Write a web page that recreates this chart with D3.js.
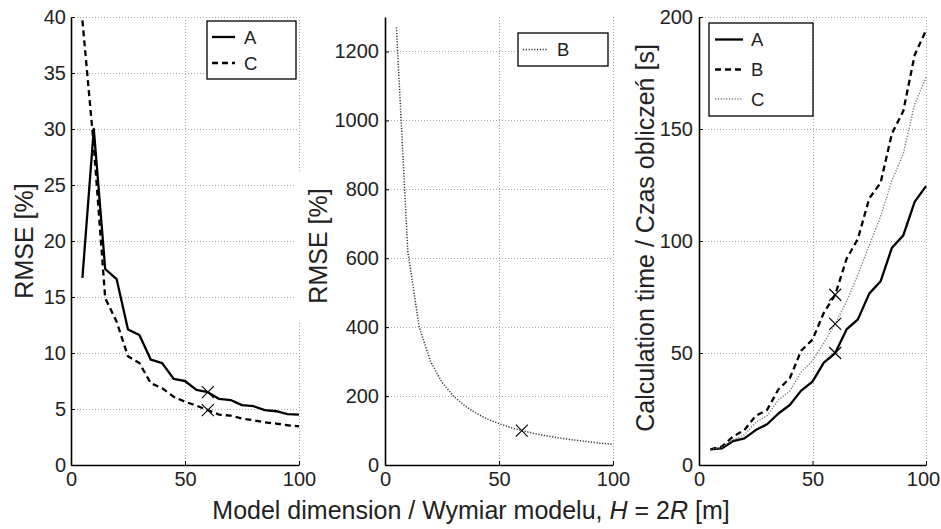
<!DOCTYPE html>
<html>
<head>
<meta charset="utf-8">
<script src="https://cdn.jsdelivr.net/npm/d3@7"></script>
<style>
  html, body { margin: 0; padding: 0; background: #fff; }
  svg { display: block; }
  text { font-family: "Liberation Sans", Arial, Helvetica, sans-serif; fill: #222; }
</style>
</head>
<body>
<svg id="chart" width="941" height="529"></svg>
<script>
// ---------- DATA ----------
const dims = [5, 10, 15, 20, 25, 30, 35, 40, 45, 50, 55, 60, 65, 70, 75, 80, 85, 90, 95, 100];
// RMSE [%] (left panel)
const rmseA = [16.7, 30.0, 17.5, 16.6, 12.1, 11.6, 9.4, 9.1, 7.7, 7.5, 6.7, 6.5, 5.9, 5.8, 5.35, 5.25, 4.9, 4.8, 4.55, 4.5];
const rmseC = [39.7, 28.5, 14.9, 12.8, 9.7, 9.1, 7.3, 6.85, 6.1, 5.65, 5.3, 4.9, 4.5, 4.4, 4.15, 4.0, 3.8, 3.7, 3.55, 3.45];
// RMSE [%] (middle panel)
const rmseB = [1270, 620, 400, 300, 240, 200, 172, 150, 133, 120, 109, 100, 92, 86, 80, 75, 71, 67, 63, 60];
// Calculation time [s] (right panel)
const timeA = [7, 7.4, 10.7, 11.9, 15.6, 18.2, 23, 26.8, 33.2, 37.2, 45.7, 50, 60.5, 65, 76.5, 82, 97, 102.5, 117.5, 124.5];
const timeB = [7, 8.2, 12.7, 15.6, 22, 24.6, 33.8, 38.7, 51, 56, 68, 76, 92, 101, 119, 126, 148, 158, 183, 194];
const timeC = [7, 7.8, 11.2, 13.5, 19, 22, 29, 33, 41.5, 46.5, 54.5, 63, 73, 85, 98, 111, 127, 139, 161, 173];
const markDim = 60;

const xTicks = [0, 50, 100];
const yTicksLeft = [0, 5, 10, 15, 20, 25, 30, 35, 40];
const yTicksMid = [0, 200, 400, 600, 800, 1000, 1200];
const yTicksRight = [0, 50, 100, 150, 200];

const xLabelText = ["Model dimension / Wymiar modelu, ", "H", " = 2", "R", " [m]"];
const yLabelLeft = "RMSE [%]";
const yLabelMid = "RMSE [%]";
const yLabelRight = "Calculation time / Czas obliczeń [s]";

// ---------- STYLES ----------
const styles = {
  solid:  { stroke: "#000", width: 2.3, dash: null },
  dashed: { stroke: "#000", width: 2.3, dash: "6,4" },
  dottedMid: { stroke: "#333", width: 1.5, dash: "1.2,1.6" },
  dottedRight: { stroke: "#777", width: 1.4, dash: "1.2,1.6" }
};

const svg = d3.select("#chart");
const plotTop = 17, plotBottom = 465;
const tickFont = 20, legendFont = 18.5, labelFont = 25;

function panel(cfg) {
  const g = svg.append("g");
  const x = d3.scaleLinear().domain([0, 100]).range([cfg.x0, cfg.x1]);
  const y = d3.scaleLinear().domain(cfg.yDomain).range([plotBottom, plotTop]);

  // white box behind y label (occludes neighbours like the original)
  if (cfg.labelBox) {
    g.append("rect").attr("x", cfg.labelBox[0]).attr("y", cfg.labelBox[1])
      .attr("width", cfg.labelBox[2]).attr("height", cfg.labelBox[3]).attr("fill", "#fff");
  }

  // grid
  const grid = g.append("g").attr("stroke", "#a6a6a6").attr("stroke-width", 1)
    .attr("stroke-dasharray", "1,2");
  cfg.yTicks.filter(v => v !== 0).forEach(v => {
    grid.append("line").attr("x1", cfg.x0).attr("x2", cfg.x1)
      .attr("y1", Math.round(y(v)) + 0.5).attr("y2", Math.round(y(v)) + 0.5);
  });
  xTicks.filter(v => v !== 0).forEach(v => {
    grid.append("line").attr("y1", plotTop).attr("y2", plotBottom)
      .attr("x1", Math.round(x(v)) + 0.5).attr("x2", Math.round(x(v)) + 0.5);
  });

  // series
  const line = d3.line().x((d, i) => x(dims[i])).y(d => y(d));
  cfg.series.forEach(s => {
    const st = styles[s.style];
    g.append("path").datum(s.values).attr("d", line)
      .attr("fill", "none").attr("stroke", st.stroke).attr("stroke-width", st.width)
      .attr("stroke-dasharray", st.dash).attr("stroke-linejoin", "round");
  });
  // x markers
  cfg.series.forEach(s => {
    const i = dims.indexOf(markDim);
    const cx = x(markDim), cy = y(s.values[i]), r = 6;
    g.append("path").attr("d", `M${cx - r},${cy - r}L${cx + r},${cy + r}M${cx - r},${cy + r}L${cx + r},${cy - r}`)
      .attr("stroke", "#000").attr("stroke-width", 1.1).attr("fill", "none");
  });

  // axes
  const ax = g.append("g").attr("transform", `translate(0,${plotBottom})`)
    .call(d3.axisBottom(x).tickValues(xTicks).tickFormat(d3.format("d")).tickSizeInner(-4).tickSizeOuter(0).tickPadding(7));
  const ay = g.append("g").attr("transform", `translate(${cfg.x0},0)`)
    .call(d3.axisLeft(y).tickValues(cfg.yTicks).tickFormat(d3.format("d")).tickSizeInner(-4).tickSizeOuter(0).tickPadding(cfg.yPad));
  [ax, ay].forEach(a => {
    a.select(".domain").attr("stroke", "#000").attr("stroke-width", 1.6);
    a.selectAll(".tick line").attr("stroke", "#000").attr("stroke-width", 1);
    a.selectAll(".tick text").attr("font-size", tickFont).attr("fill", "#222")
      .style("font-family", '"Liberation Sans", Arial, sans-serif');
  });
  ax.selectAll(".tick text").attr("dy", "0.72em");
  if (cfg.lastXShift) {
    ax.selectAll(".tick text").filter(d => d === 100).attr("dx", cfg.lastXShift);
  }

  // y label
  g.append("text").attr("transform", `translate(${cfg.labelX},${cfg.labelY}) rotate(-90)`)
    .attr("text-anchor", "middle").attr("font-size", labelFont).text(cfg.yLabel);

  // legend
  const L = cfg.legend;
  g.append("rect").attr("x", L.x).attr("y", L.y).attr("width", L.w).attr("height", L.h)
    .attr("fill", "#fff").attr("stroke", "#000").attr("stroke-width", 1.3);
  L.items.forEach((it, k) => {
    const st = styles[it.style];
    const yy = L.rowY[k];
    g.append("line").attr("x1", L.sx0).attr("x2", L.sx1).attr("y1", yy).attr("y2", yy)
      .attr("stroke", st.stroke).attr("stroke-width", st.width).attr("stroke-dasharray", st.dash);
    g.append("text").attr("x", L.tx).attr("y", yy).attr("dy", "0.36em")
      .attr("font-size", legendFont).text(it.name);
  });
}

// left panel
panel({
  x0: 71, x1: 299, yDomain: [0, 40], yTicks: yTicksLeft, yPad: 5,
  series: [{ values: rmseA, style: "solid" }, { values: rmseC, style: "dashed" }],
  yLabel: yLabelLeft, labelX: 33, labelY: 241,
  legend: { x: 207, y: 21, w: 89, h: 58, sx0: 212, sx1: 235, tx: 244,
    rowY: [37, 63], items: [{ name: "A", style: "solid" }, { name: "C", style: "dashed" }] }
});

// middle panel
panel({
  x0: 385, x1: 613, yDomain: [0, 1300], yTicks: yTicksMid, yPad: 6,
  series: [{ values: rmseB, style: "dottedMid" }],
  labelBox: [294, 173, 44, 148],
  yLabel: yLabelMid, labelX: 327, labelY: 246,
  legend: { x: 518, y: 33, w: 90, h: 33, sx0: 523, sx1: 547, tx: 557,
    rowY: [49.5], items: [{ name: "B", style: "dottedMid" }] }
});

// right panel
panel({
  x0: 699, x1: 926, yDomain: [0, 200], yTicks: yTicksRight, yPad: 6, lastXShift: -3,
  series: [{ values: timeA, style: "solid" }, { values: timeB, style: "dashed" }, { values: timeC, style: "dottedRight" }],
  yLabel: yLabelRight, labelX: 654, labelY: 238,
  legend: { x: 709, y: 23, w: 104, h: 93, sx0: 715, sx1: 743, tx: 751,
    rowY: [39.5, 69.5, 99], items: [{ name: "A", style: "solid" }, { name: "B", style: "dashed" }, { name: "C", style: "dottedRight" }] }
});

// common x label
const xl = svg.append("text").attr("x", 471).attr("y", 519).attr("text-anchor", "middle")
  .attr("font-size", labelFont);
xLabelText.forEach((t, i) => {
  xl.append("tspan").attr("font-style", i === 1 || i === 3 ? "italic" : "normal").text(t);
});
</script>
</body>
</html>
